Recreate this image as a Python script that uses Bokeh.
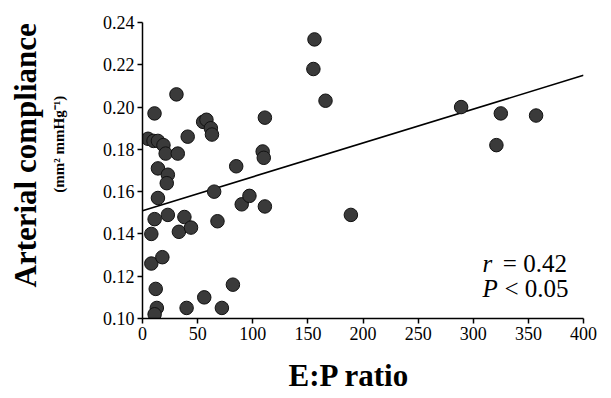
from bokeh.plotting import figure
from bokeh.models import Range1d, Label, FixedTicker, ColumnDataSource, Title
from bokeh.embed import file_html
from bokeh.resources import INLINE

# E:P ratio vs arterial compliance
ep_ratio = [30.8, 10.9, 5, 10, 14, 19, 21, 32, 14, 23, 22, 41, 55, 58, 62, 63,
            85, 109, 110, 111, 155, 156, 166, 14, 11, 23, 8, 38, 33, 44, 68, 65,
            90, 97, 111, 189, 8, 18, 12, 13, 11, 40, 56, 72, 82, 289, 325, 357, 321]
compliance = [0.206, 0.197, 0.185, 0.184, 0.184, 0.182, 0.178, 0.178, 0.171, 0.168,
              0.164, 0.186, 0.193, 0.194, 0.190, 0.187, 0.172, 0.179, 0.176, 0.195,
              0.218, 0.232, 0.203, 0.157, 0.147, 0.149, 0.140, 0.148, 0.141, 0.143,
              0.146, 0.160, 0.154, 0.158, 0.153, 0.149, 0.126, 0.129, 0.114, 0.105,
              0.102, 0.105, 0.110, 0.105, 0.116, 0.200, 0.197, 0.196, 0.182]

fit_x = [0, 400]
fit_y = [0.151, 0.215]

x_ticks = [0, 50, 100, 150, 200, 250, 300, 350, 400]
y_ticks = [0.10, 0.12, 0.14, 0.16, 0.18, 0.20, 0.22, 0.24]

FONT = "Liberation Serif"
NB = "\u00a0"

p = figure(width=611, height=398, output_backend="svg", toolbar_location=None,
           x_range=Range1d(0, 400), y_range=Range1d(0.10, 0.24),
           min_border_left=141, min_border_right=28, min_border_top=22,
           min_border_bottom=80)
p.outline_line_color = None
p.grid.visible = False
p.background_fill_color = "white"
p.border_fill_color = "white"

for ax in (p.xaxis[0], p.yaxis[0]):
    ax.axis_line_color = "black"
    ax.axis_line_width = 1.5
    ax.major_tick_line_color = "black"
    ax.major_tick_line_width = 1.5
    ax.major_tick_in = 0
    ax.major_tick_out = 5
    ax.minor_tick_line_color = None
    ax.major_label_text_font = FONT
    ax.major_label_text_font_size = "18px"
    ax.major_label_text_color = "black"
    ax.major_label_standoff = 3

p.xaxis[0].ticker = FixedTicker(ticks=x_ticks)
p.yaxis[0].ticker = FixedTicker(ticks=y_ticks)
p.yaxis[0].major_label_overrides = {t: f"{t:.2f}" for t in y_ticks}

# unit sub-label as the y axis label
p.yaxis[0].axis_label = NB * 14 + "(mm² mmHg⁻¹)"
p.yaxis[0].axis_label_text_font = FONT
p.yaxis[0].axis_label_text_font_size = "15px"
p.yaxis[0].axis_label_text_font_style = "bold"
p.yaxis[0].axis_label_text_color = "black"
p.yaxis[0].axis_label_standoff = 33

p.add_layout(Title(text="Arterial compliance", align="left", offset=31,
                   text_font=FONT, text_font_size="31px", text_font_style="bold",
                   text_color="black", standoff=10), "left")
# small spacer below the x axis, then the x title
p.add_layout(Title(text=NB, text_font_size="1px", standoff=10), "below")
p.add_layout(Title(text="E:P ratio", align="left", offset=146,
                   text_font=FONT, text_font_size="31px", text_font_style="bold",
                   text_color="black", standoff=0), "below")

p.line(fit_x, fit_y, line_color="black", line_width=1.6)

src = ColumnDataSource(dict(x=ep_ratio, y=compliance))
p.scatter("x", "y", source=src, size=13.5, fill_color="#3a3a3a",
          line_color="#111111", line_width=1)

def lab(x, y, text, size, style="normal", align="left"):
    p.add_layout(Label(x=x, y=y, text=text, text_font=FONT, text_font_size=size,
                       text_font_style=style, text_align=align,
                       text_baseline="alphabetic", text_color="black"))

# statistics annotation
lab(308.5, 0.126, "r", "25px", "italic", "left")
lab(385, 0.126, "= 0.42", "25px", "normal", "right")
lab(308.5, 0.1142, "P", "25px", "italic", "left")
lab(386.5, 0.1142, "< 0.05", "25px", "normal", "right")

open("out.html", "w").write(file_html(p, INLINE))
